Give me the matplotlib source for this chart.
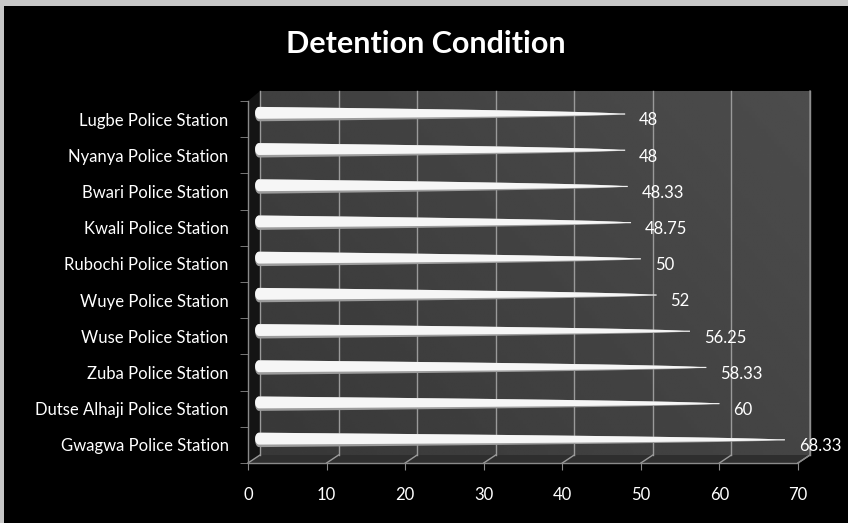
import numpy as np
import matplotlib
matplotlib.use("Agg")
import matplotlib.pyplot as plt
from matplotlib.patches import Polygon, Rectangle

# ---- data ----
stations = ["Gwagwa Police Station", "Dutse Alhaji Police Station", "Zuba Police Station",
            "Wuse Police Station", "Wuye Police Station", "Rubochi Police Station",
            "Kwali Police Station", "Bwari Police Station", "Nyanya Police Station",
            "Lugbe Police Station"]
values = [68.33, 60, 58.33, 56.25, 52, 50, 48.75, 48.33, 48, 48]
value_labels = ["68.33", "60", "58.33", "56.25", "52", "50", "48.75", "48.33", "48", "48"]
xticks = [0, 10, 20, 30, 40, 50, 60, 70]
title = "Detention Condition"

W, H = 848, 523
fig = plt.figure(figsize=(W / 100, H / 100), dpi=100)
fig.patch.set_facecolor("#c8c8c8")
fig.patches.append(Rectangle((4 / W, 0), 1, (H - 6) / H, transform=fig.transFigure,
                             facecolor="black", edgecolor="none", zorder=-10))

FONT = ["Lato", "DejaVu Sans"]

# main axes: front plane
x_left, x_right = 248, 798
y_bot, y_top = 463, 101
ax = fig.add_axes([x_left / W, (H - y_bot) / H, (x_right - x_left) / W, (y_bot - y_top) / H])
ax.set_facecolor("none")
ax.set_xlim(0, 70)
ax.set_ylim(-0.5, 9.5)

ux = 70 / (x_right - x_left)      # data units per pixel (x)
uy = 10 / (y_bot - y_top)         # data units per pixel (y)
dx, dy = 12 * ux, 8 * uy          # depth offset of back wall
wall_bot = -0.5 + dy
wall_top = 9.5 + 10 * uy
wall_l, wall_r = 0 + dx, 70 + dx

# back wall gradient
gx = np.linspace(0, 1, 200)
gy = np.linspace(0, 1, 100)
GX, GY = np.meshgrid(gx, gy)
grad = 0.22 + 0.05 * GX + 0.03 * GY
img = ax.imshow(grad, extent=[wall_l, wall_r, wall_bot, wall_top], origin="lower",
                cmap="gray", vmin=0, vmax=1, aspect="auto", zorder=0, interpolation="bilinear")
img.set_clip_on(False)

# floor and side wall
floor = Polygon([(0, -0.5), (70, -0.5), (wall_r, wall_bot), (wall_l, wall_bot)],
                closed=True, facecolor="#2e2e2e", edgecolor="none", zorder=0.5, clip_on=False)
ax.add_patch(floor)
side = Polygon([(0, -0.5), (0, 9.5), (wall_l, wall_top), (wall_l, wall_bot)],
               closed=True, facecolor="#141414", edgecolor="none", zorder=0.5, clip_on=False)
ax.add_patch(side)

# gridlines on wall + floor connectors
for xv in xticks:
    ax.plot([xv + dx, xv + dx], [wall_bot, wall_top], color="#9a9a9a", lw=1.0, zorder=1, clip_on=False)
    ax.plot([xv, xv + dx], [-0.5, wall_bot], color="#9a9a9a", lw=1.0, zorder=1, clip_on=False)

# bars (tapered cones)
h0 = 7.2 * uy
x0 = 0.9
cap = 4 * ux
th = np.linspace(np.pi / 2, 3 * np.pi / 2, 30)
for i, (v, lab) in enumerate(zip(values, value_labels)):
    yc = i + 5 * uy
    t = np.linspace(0, 1, 150)
    xs = x0 + cap + t * (v - x0 - cap)
    hh = h0 * (1 - t) ** 0.6
    hh = np.maximum(hh, 0.6 * uy)
    cx = x0 + cap + cap * np.cos(th)
    cy = yc + h0 * np.sin(th)
    outline = np.vstack([np.column_stack([xs[::-1], yc + hh[::-1]]),
                         np.column_stack([cx, cy]),
                         np.column_stack([xs, yc - hh])])
    ax.add_patch(Polygon(outline, closed=True, facecolor="#9c9c9c", edgecolor="none", zorder=3))
    # bright upper part
    cy2 = yc + 0.175 * h0 + 0.825 * h0 * np.sin(th)
    upper = np.vstack([np.column_stack([xs[::-1], yc + hh[::-1]]),
                       np.column_stack([cx, cy2]),
                       np.column_stack([xs, yc - 0.65 * hh])])
    ax.add_patch(Polygon(upper, closed=True, facecolor="#f6f6f6", edgecolor="none", zorder=3.5))
    ax.annotate(lab, xy=(v, i), xytext=(10, -1), textcoords="offset points",
                ha="left", va="center", color="white", fontsize=12, family=FONT, zorder=5,
                annotation_clip=False)

# axes styling
for s in ["top", "right"]:
    ax.spines[s].set_visible(False)
for s in ["left", "bottom"]:
    ax.spines[s].set_color("#8a8a8a")
    ax.spines[s].set_linewidth(1.0)
    ax.spines[s].set_zorder(4)
# right-end diagonal and right wall edge
ax.plot([70, wall_r, wall_r], [-0.5, wall_bot, wall_top], color="#8a8a8a", lw=1.0, zorder=1, clip_on=False)

ax.set_xticks(xticks)
ax.set_xticklabels([str(x) for x in xticks], family=FONT, fontsize=12, color="white")
ax.tick_params(axis="x", direction="out", length=5, color="#8a8a8a", pad=12)
ax.set_yticks(range(len(stations)))
ax.set_yticklabels(stations, family=FONT, fontsize=12, color="white")
ax.set_yticks(np.arange(-0.5, 10, 1), minor=True)
ax.tick_params(axis="y", which="major", length=0, pad=14)
ax.tick_params(axis="y", which="minor", length=6, color="#8a8a8a", direction="out")

fig.text(426 / W, 1 - 44 / H, title, ha="center", va="center", color="white",
         fontsize=22, fontweight="bold", family=FONT)

fig.savefig("out.png", dpi=100, facecolor=fig.get_facecolor())
